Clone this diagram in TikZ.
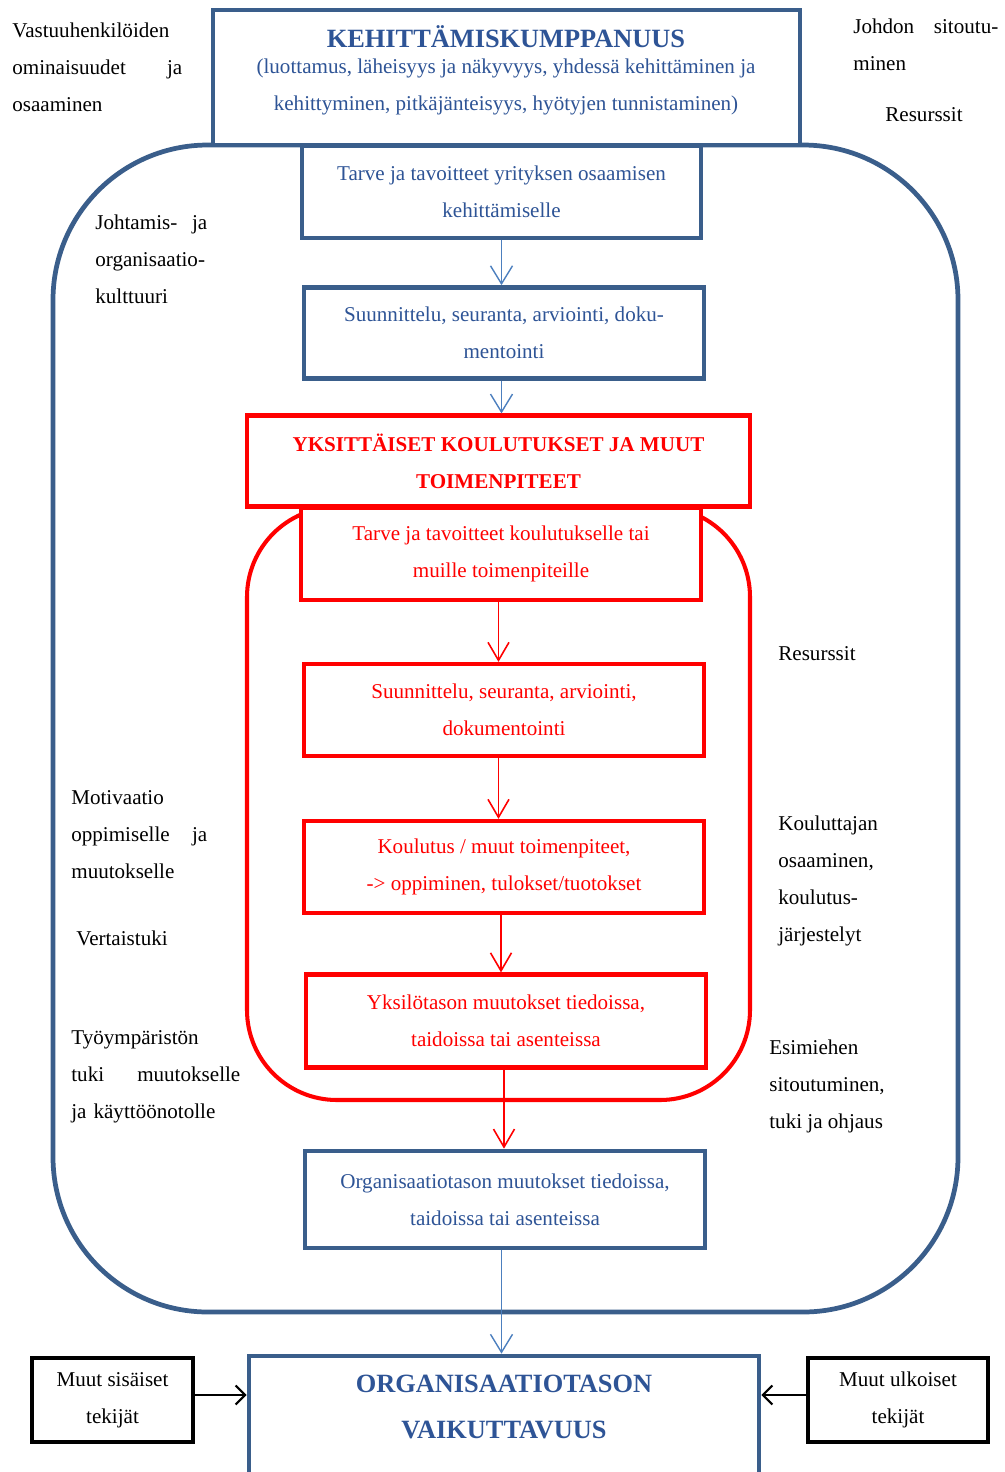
\documentclass[tikz,border=0pt]{standalone}
\usepackage{fontspec}
\setmainfont{Liberation Serif}
\usetikzlibrary{arrows.meta}
\definecolor{kehblue}{RGB}{58,94,139}
\definecolor{kehtext}{RGB}{46,84,150}
\definecolor{arrblue}{RGB}{76,127,190}
\colorlet{redx}{red}
\newcommand{\kehtitle}{\fontsize{15}{26}\selectfont\bfseries}

\begin{document}
\begin{tikzpicture}[
        x=0.02cm, y=-0.02cm,
        every node/.style={inner sep=0pt, font=\fontsize{12}{21}\selectfont},
        bluebox/.style={draw=kehblue, line width=2.7pt, fill=white, text=kehtext, align=center},
        redbox/.style={draw=redx, line width=2.4pt, fill=white, text=redx, align=center},
        blackbox/.style={draw=black, line width=2.4pt, fill=white, align=center},
        sidetext/.style={anchor=north west, align=left},
        bluearrow/.style={draw=arrblue, line width=0.8pt, -{Straight Barb[length=0.36cm,width=0.44cm]}},
        redarrow/.style={draw=redx, line width=0.9pt, -{Straight Barb[length=0.36cm,width=0.42cm]}},
        blackarrow/.style={draw=black, line width=1.2pt, -{Straight Barb[length=0.19cm,width=0.38cm]}}
    ]
    \useasboundingbox (0,0) rectangle (1005,1472);

    \draw[kehblue, line width=2.7pt, rounded corners=3.1cm] (53,145) rectangle (958,1312);
    \draw[redx, line width=2.3pt, rounded corners=1.8cm] (247,507) rectangle (750,1100);

    \node[bluebox, minimum width=11.74cm, minimum height=2.7cm] (kump) at (506.5,77.5) {};
    \node[text=kehtext, align=center] (kumpteksti) at (506,70)
        {{\kehtitle KEHITTÄMISKUMPPANUUS}\\[-6pt]
         (luottamus, läheisyys ja näkyvyys, yhdessä kehittäminen ja\\
         kehittyminen, pitkäjänteisyys, hyötyjen tunnistaminen)};

    \node[bluebox, minimum width=7.98cm, minimum height=1.84cm] (tarveA) at (501.5,192)
        {Tarve ja tavoitteet yrityksen osaamisen\\ kehittämiselle};
    \node[bluebox, minimum width=8cm, minimum height=1.82cm] (suunA) at (504,333)
        {Suunnittelu, seuranta, arviointi, doku-\\ mentointi};
    \node[redbox, minimum width=10.06cm, minimum height=1.82cm, font=\fontsize{12}{21}\selectfont\bfseries] (yksit) at (498.5,461)
        {YKSITTÄISET KOULUTUKSET JA MUUT\\ TOIMENPITEET};
    \node[redbox, minimum width=8cm, minimum height=1.84cm] (tarveB) at (501,554)
        {Tarve ja tavoitteet koulutukselle tai\\ muille toimenpiteille};
    \node[redbox, minimum width=8cm, minimum height=1.84cm] (suunB) at (504,710)
        {Suunnittelu, seuranta, arviointi,\\ dokumentointi};
    \node[redbox, minimum width=8cm, minimum height=1.84cm] (koul) at (504,867)
        {Koulutus / muut toimenpiteet,\\ -> oppiminen, tulokset/tuotokset};
    \node[redbox, minimum width=8cm, minimum height=1.86cm] (yksil) at (506,1021)
        {Yksilötason muutokset tiedoissa,\\ taidoissa tai asenteissa};
    \node[bluebox, minimum width=8cm, minimum height=1.94cm] (orgm) at (505,1199.5)
        {Organisaatiotason muutokset tiedoissa,\\ taidoissa tai asenteissa};

    \node[bluebox, minimum width=10.2cm, minimum height=3.2cm] (vaik) at (504,1436) {};
    \node[text=kehtext, align=center, font=\kehtitle] (vaikteksti) at (504,1407)
        {ORGANISAATIOTASON\\ VAIKUTTAVUUS};

    \node[blackbox, minimum width=3.22cm, minimum height=1.68cm] (sis) at (112.5,1400)
        {Muut sisäiset\\ tekijät};
    \node[blackbox, minimum width=3.6cm, minimum height=1.68cm] (ulk) at (898,1400)
        {Muut ulkoiset\\ tekijät};

    \draw[bluearrow] (tarveA.south) -- (tarveA.south |- suunA.north);
    \draw[bluearrow] (suunA.south -| tarveA.south) -- (tarveA.south |- yksit.north);
    \draw[redarrow] (tarveB.south -| yksit.south) -- (yksit.south |- suunB.north);
    \draw[redarrow] (suunB.south -| yksit.south) -- (yksit.south |- koul.north);
    \draw[redarrow] (koul.south -| tarveB.south) -- (tarveB.south |- yksil.north);
    \draw[redarrow] (yksil.south -| suunB.south) -- (suunB.south |- orgm.north);
    \draw[bluearrow] (orgm.south -| tarveA.south) -- (tarveA.south |- vaik.north);
    \draw[blackarrow] ([yshift=0.1cm]sis.east) -- ([yshift=0.1cm]sis.east -| vaik.west);
    \draw[blackarrow] ([yshift=0.1cm]ulk.west) -- ([yshift=0.1cm]ulk.west -| vaik.east);

    \node[sidetext, text width=3.4cm] (vastuu) at (12,23)
        {Vastuuhenkilöiden\\ ominaisuudet\hfill ja\\ osaaminen};
    \node[sidetext, text width=2.9cm] (johdon) at (853,19)
        {Johdon\hfill sitoutu-\\ minen};
    \node[sidetext] (resursA) at (885,107) {Resurssit};
    \node[sidetext, text width=2.24cm] (kulttuuri) at (95,215)
        {Johtamis-\hfill ja\\ organisaatio-\\ kulttuuri};
    \node[sidetext] (resursB) at (778,646) {Resurssit};
    \node[sidetext, text width=2.72cm] (motiv) at (71,790)
        {Motivaatio\\ oppimiselle\hfill ja\\ muutokselle};
    \node[sidetext] (vertais) at (76,931) {Vertaistuki};
    \node[sidetext] (kouluttaja) at (778,816)
        {Kouluttajan\\ osaaminen,\\ koulutus-\\ järjestelyt};
    \node[sidetext, text width=3.38cm] (tyoymp) at (71,1030)
        {Työympäristön\\ tuki\hfill muutokselle\\ ja käyttöönotolle};
    \node[sidetext] (esimies) at (769,1040)
        {Esimiehen\\ sitoutuminen,\\ tuki ja ohjaus};
\end{tikzpicture}
\end{document}
